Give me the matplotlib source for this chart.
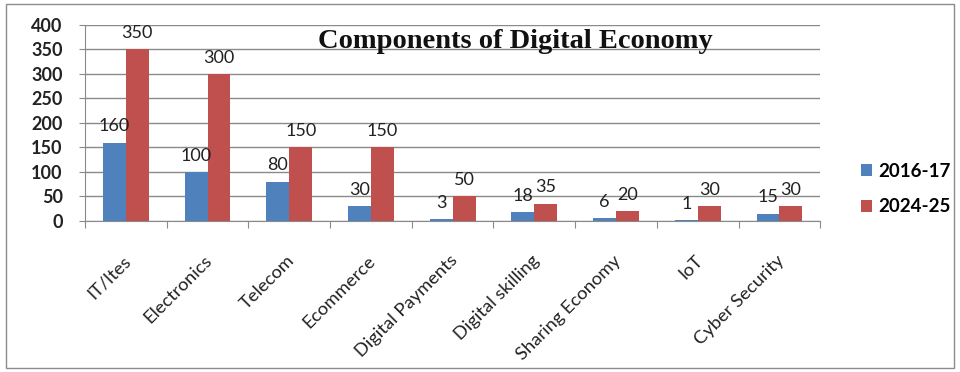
import numpy as np
import matplotlib
matplotlib.use("Agg")
import matplotlib.pyplot as plt
from matplotlib.patches import Rectangle

# data
categories = ["IT/Ites", "Electronics", "Telecom", "Ecommerce", "Digital Payments",
              "Digital skilling", "Sharing Economy", "IoT", "Cyber Security"]
series_names = ["2016-17", "2024-25"]
values_2016 = [160, 100, 80, 30, 3, 18, 6, 1, 15]
values_2024 = [350, 300, 150, 150, 50, 35, 20, 30, 30]
y_ticks = [0, 50, 100, 150, 200, 250, 300, 350, 400]

blue = "#4F81BD"
red = "#C0504D"
txt = "#222222"

fig = plt.figure(figsize=(9.6, 3.72), dpi=100)
# outer frame like the excel chart area
fig.patches.append(Rectangle((0.006, 0.01), 0.988, 0.978, transform=fig.transFigure,
                             fill=False, edgecolor="#8c8c8c", linewidth=1.0))

ax = fig.add_axes([0.0885, 0.406, 0.766, 0.527])

x = np.arange(len(categories))
w = 0.28
b1 = ax.bar(x - w / 2, values_2016, w, color=blue, label=series_names[0], zorder=3)
b2 = ax.bar(x + w / 2, values_2024, w, color=red, label=series_names[1], zorder=3)

lbl_font = dict(family="Lato", fontsize=13, color=txt)
ax.bar_label(b1, padding=6, **lbl_font)
ax.bar_label(b2, padding=6, **lbl_font)

ax.set_xlim(-0.5, len(categories) - 0.5)
ax.set_ylim(0, 400)
ax.set_yticks(y_ticks)
ax.set_yticklabels([str(t) for t in y_ticks], fontsize=13, fontweight="bold",
                   family="Lato", color=txt)
ax.grid(axis="y", color="#8a8a8a", linewidth=1.0, zorder=0)
ax.set_axisbelow(True)

# category ticks at boundaries
ax.set_xticks(np.arange(len(categories) + 1) - 0.5)
ax.set_xticklabels([])
ax.tick_params(axis="x", length=5, color="#8a8a8a")
ax.tick_params(axis="y", length=4, color="#8a8a8a", pad=12)
for i, c in enumerate(categories):
    ax.text(i - 0.04, -0.16, c, transform=ax.get_xaxis_transform(), rotation=45,
            ha="right", va="top", rotation_mode="anchor", fontsize=13.2,
            family="Lato", color=txt)

for side in ["top", "right"]:
    ax.spines[side].set_visible(False)
ax.spines["left"].set_color("#8a8a8a")
ax.spines["bottom"].set_color("#8a8a8a")

fig.text(0.537, 0.888, "Components of Digital Economy", ha="center", va="center",
         fontsize=20.5, fontweight="bold", family="Liberation Serif", color="#111111")

fig.legend(handles=[b1, b2], loc="center left", bbox_to_anchor=(0.879, 0.492),
           frameon=False, handlelength=0.6, handleheight=0.6,
           handletextpad=0.35, labelspacing=1.0,
           prop=dict(family="Lato", size=13.5, weight="bold"))

fig.savefig("out.png", dpi=100)
